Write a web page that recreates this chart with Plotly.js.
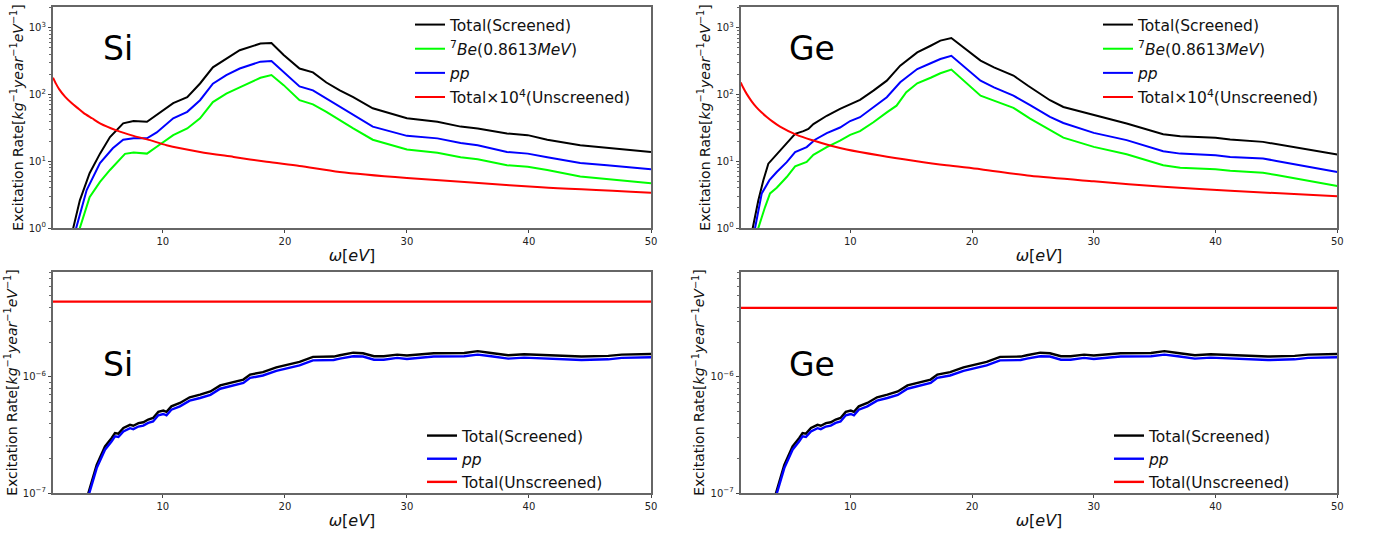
<!DOCTYPE html>
<html>
<head>
<meta charset="utf-8">
<script src="https://cdn.plot.ly/plotly-3.0.1.min.js"></script>
<style>html,body{margin:0;padding:0;background:#fff;}#chart{width:1375px;height:537px;}</style>
</head>
<body>
<div id="chart"></div>
<script>
// ---------- Top-left: Si ----------
const siTotalOmega = [2.5, 2.66, 3.2, 4.0, 4.85, 5.67, 6.75, 7.6, 8.7, 9.5, 10.85, 12.0, 13.05, 14.1, 15.2, 16.3, 18.0, 18.9, 19.9, 21.2, 22.3, 23.4, 24.5, 25.6, 27.2, 30.0, 32.5, 34.4, 35.8, 38.2, 39.9, 41.5, 44.2, 46.4, 50];
const siTotal = [0.6, 1.0, 2.6, 6.6, 13, 23, 37, 40, 39, 49, 74, 91, 146, 255, 345, 460, 580, 590, 390, 245, 214, 151, 115, 91, 62, 44, 39, 33, 31, 26, 24.6, 21, 17.4, 15.9, 13.7];

const siPPOmega = [2.75, 2.9, 3.76, 4.3, 4.85, 5.9, 6.75, 7.6, 8.7, 9.5, 10.85, 12.0, 13.05, 14.1, 15.2, 16.3, 18.0, 18.9, 19.9, 21.2, 22.3, 23.4, 24.5, 25.6, 27.2, 30.0, 32.5, 34.4, 35.8, 38.2, 39.9, 41.5, 44.2, 46.4, 50];
const siPP = [0.6, 1.0, 3.7, 5.8, 9.4, 15.6, 21, 22, 22, 27, 44, 55, 82, 145, 195, 245, 310, 318, 214, 132, 115, 87, 65, 49, 33, 24, 22, 18.7, 17.4, 13.8, 13, 11.5, 9.4, 8.7, 7.6];

const siBeOmega = [3.05, 3.2, 4.0, 4.85, 5.67, 6.2, 6.9, 7.6, 8.7, 9.5, 10.85, 12.0, 13.05, 14.1, 15.2, 16.3, 18.0, 18.9, 19.9, 21.2, 22.3, 23.4, 24.5, 25.6, 27.2, 30.0, 32.5, 34.4, 35.8, 38.2, 39.9, 41.5, 44.2, 46.4, 50];
const siBe = [0.6, 1.0, 2.9, 4.9, 7.4, 9.3, 12.9, 13.5, 13, 16.5, 24.6, 31, 44, 77, 103, 128, 178, 195, 138, 82, 71, 55, 41, 31, 21, 15, 13.4, 11.5, 10.7, 8.7, 8.3, 7.4, 5.9, 5.4, 4.7];

const siUnscrOmega = [1.0, 1.2, 1.5, 2.0, 2.5, 3.0, 3.5, 4.2, 4.85, 6.2, 7.6, 8.95, 10.3, 13.05, 15.8, 18.5, 21.2, 24.5, 30, 35.3, 41, 50];
const siUnscr = [178, 150, 120, 92, 75, 63, 53, 44, 37, 29, 24, 20.7, 17.4, 13.8, 11.6, 9.8, 8.5, 6.9, 5.6, 4.8, 4.06, 3.37];

// ---------- Top-right: Ge ----------
const geTotalOmega = [1.85, 1.99, 2.45, 2.86, 3.27, 3.96, 4.78, 5.47, 6.15, 6.56, 6.97, 8.07, 9.16, 9.99, 10.8, 11.9, 13.0, 14.1, 15.5, 16.6, 17.4, 18.3, 19.6, 20.7, 21.8, 23.4, 24.6, 25.6, 26.4, 27.5, 30, 32.7, 35.7, 37.1, 40, 41.2, 43.9, 45, 50];
const geTotal = [0.6, 1.0, 2.6, 5.2, 9.2, 12.6, 18.2, 25.7, 28.2, 30.5, 36, 48, 61, 72, 83, 114, 161, 270, 427, 537, 640, 700, 455, 322, 255, 192, 135, 104, 82, 65, 49, 36.7, 25.4, 23.7, 22.4, 21.1, 19.5, 18, 12.6];

const gePPOmega = [2.05, 2.18, 2.73, 3.36, 3.96, 4.78, 5.47, 6.42, 7.1, 8.07, 9.16, 9.99, 10.8, 11.9, 13.0, 14.1, 15.5, 16.6, 17.4, 18.3, 19.6, 20.7, 21.8, 23.4, 24.77, 26.4, 27.5, 30, 32.7, 35.7, 37.1, 40, 41.2, 43.9, 45, 50];
const gePP = [0.6, 1.0, 3.3, 5.2, 6.9, 9.7, 13.7, 16.3, 21, 26.3, 32, 40, 45.6, 64, 91, 152, 240, 293, 340, 380, 240, 161, 128, 96, 69, 46, 37.4, 26.6, 20.7, 14.1, 13, 12.3, 11.6, 11, 10.1, 6.9];

const geBeOmega = [2.3, 2.45, 3.0, 3.41, 3.96, 4.78, 5.47, 6.42, 6.97, 8.07, 9.16, 9.99, 10.8, 11.9, 13.0, 13.8, 14.6, 15.5, 16.6, 17.4, 18.3, 19.6, 20.7, 21.8, 23.4, 24.77, 26.4, 27.5, 30, 32.7, 35.7, 37.1, 40, 41.2, 43.9, 45, 50];
const geBe = [0.6, 1.0, 2.06, 3.3, 4.0, 5.8, 8.4, 9.8, 12.5, 16.3, 20.4, 24.8, 28.2, 38.4, 54, 68, 108, 147, 178, 208, 236, 144, 96, 81, 63, 43.6, 29, 22.6, 16.4, 12.7, 8.7, 8.0, 7.6, 7.2, 6.7, 6.2, 4.25];

const geUnscrOmega = [1.0, 1.2, 1.49, 1.9, 2.3, 2.7, 3.14, 3.6, 4.23, 5.6, 6.97, 8.34, 9.7, 12.45, 15.2, 17.9, 20.7, 24.77, 30, 35.7, 41.2, 50];
const geUnscr = [152, 127, 102, 79, 64, 54, 46, 39.5, 33, 24.8, 20.4, 17.2, 15, 12.2, 10.2, 8.7, 7.6, 6.05, 5.0, 4.15, 3.6, 3.0];

// ---------- Bottom panels (Si and Ge share the same curves) ----------
const lowOmega = [3.7, 3.9, 4.58, 5.26, 5.81, 6.08, 6.36, 6.77, 7.31, 7.58, 8.0, 8.4, 8.8, 9.2, 9.63, 10.04, 10.3, 10.7, 11.4, 12.2, 13.05, 13.9, 14.7, 15.8, 16.6, 17.15, 18.2, 19.3, 20.4, 21.2, 22.3, 24.0, 24.5, 25.6, 26.4, 27.3, 28.1, 29.2, 30.0, 32.2, 34.7, 35.8, 36.9, 38.3, 39.6, 42.4, 44.3, 46.5, 47.6, 50];
const lowTotal = [0.8e-7, 1.0e-7, 1.75e-7, 2.52e-7, 2.98e-7, 3.29e-7, 3.25e-7, 3.63e-7, 3.87e-7, 3.8e-7, 4.0e-7, 4.07e-7, 4.3e-7, 4.43e-7, 5.0e-7, 5.13e-7, 5.0e-7, 5.58e-7, 5.97e-7, 6.68e-7, 7.05e-7, 7.5e-7, 8.47e-7, 9.05e-7, 9.5e-7, 1.05e-6, 1.10e-6, 1.21e-6, 1.28e-6, 1.35e-6, 1.49e-6, 1.50e-6, 1.54e-6, 1.62e-6, 1.60e-6, 1.51e-6, 1.51e-6, 1.56e-6, 1.53e-6, 1.60e-6, 1.61e-6, 1.67e-6, 1.61e-6, 1.54e-6, 1.57e-6, 1.54e-6, 1.50e-6, 1.52e-6, 1.56e-6, 1.58e-6];
const lowPP = [0.75e-7, 0.94e-7, 1.64e-7, 2.36e-7, 2.79e-7, 3.08e-7, 3.04e-7, 3.39e-7, 3.62e-7, 3.55e-7, 3.74e-7, 3.81e-7, 4.02e-7, 4.14e-7, 4.68e-7, 4.8e-7, 4.68e-7, 5.22e-7, 5.58e-7, 6.25e-7, 6.59e-7, 7.01e-7, 7.92e-7, 8.46e-7, 8.88e-7, 9.82e-7, 1.03e-6, 1.13e-6, 1.20e-6, 1.26e-6, 1.39e-6, 1.40e-6, 1.44e-6, 1.51e-6, 1.50e-6, 1.41e-6, 1.41e-6, 1.46e-6, 1.43e-6, 1.50e-6, 1.51e-6, 1.56e-6, 1.51e-6, 1.44e-6, 1.47e-6, 1.44e-6, 1.40e-6, 1.42e-6, 1.46e-6, 1.48e-6];
const flatOmega = [1, 50];
const siUnscrLow = [4.46e-6, 4.46e-6];
const geUnscrLow = [3.94e-6, 3.94e-6];

// ---------- Labels ----------
const labTotal = 'Total(Screened)';
const labBe = '<sup>7</sup><i>Be</i>(0.8613<i>MeV</i>)';
const labPP = '<i>pp</i>';
const labUnscr4 = 'Total×10<sup>4</sup>(Unscreened)';
const labUnscr = 'Total(Unscreened)';
const topTickVals = [1, 10, 100, 1000];
const topTickText = ['10<sup>0</sup>', '10<sup>1</sup>', '10<sup>2</sup>', '10<sup>3</sup>'];
const lowTickVals = [1e-7, 1e-6];
const lowTickText = ['10<sup>−7</sup>', '10<sup>−6</sup>'];
const xTickVals = [10, 20, 30, 40, 50];

const FONT = 'DejaVu Sans';
const W = 1375, H = 537;
const px = v => v / W;
const py = v => 1 - v / H;

function minorVals(lo, hi) {
  const out = [];
  for (let e = lo; e <= hi; e++) {
    for (let m = 2; m <= 9; m++) out.push(m * Math.pow(10, e));
  }
  return out;
}

function line(x, y, name, color, xa, ya, leg, group, w, smooth) {
  return {x: x, y: y, name: name, type: 'scatter', mode: 'lines',
    line: {color: color, width: w || 2, shape: smooth ? 'spline' : 'linear', smoothing: 0.8},
    xaxis: xa, yaxis: ya,
    legend: leg, legendgroup: group, showlegend: true, hoverinfo: 'skip'};
}

const traces = [
  line(siTotalOmega, siTotal, labTotal, '#000000', 'x', 'y', 'legend', 'a1'),
  line(siBeOmega, siBe, labBe, '#00ff00', 'x', 'y', 'legend', 'a2'),
  line(siPPOmega, siPP, labPP, '#0000ff', 'x', 'y', 'legend', 'a3'),
  line(siUnscrOmega, siUnscr, labUnscr4, '#ff0000', 'x', 'y', 'legend', 'a4', 2, true),

  line(geTotalOmega, geTotal, labTotal, '#000000', 'x2', 'y2', 'legend2', 'b1'),
  line(geBeOmega, geBe, labBe, '#00ff00', 'x2', 'y2', 'legend2', 'b2'),
  line(gePPOmega, gePP, labPP, '#0000ff', 'x2', 'y2', 'legend2', 'b3'),
  line(geUnscrOmega, geUnscr, labUnscr4, '#ff0000', 'x2', 'y2', 'legend2', 'b4', 2, true),

  line(lowOmega, lowTotal, labTotal, '#000000', 'x3', 'y3', 'legend3', 'c1', 2.4),
  line(lowOmega, lowPP, labPP, '#0000ff', 'x3', 'y3', 'legend3', 'c2', 2.4),
  line(flatOmega, siUnscrLow, labUnscr, '#ff0000', 'x3', 'y3', 'legend3', 'c3', 2.4),

  line(lowOmega, lowTotal, labTotal, '#000000', 'x4', 'y4', 'legend4', 'd1', 2.4),
  line(lowOmega, lowPP, labPP, '#0000ff', 'x4', 'y4', 'legend4', 'd2', 2.4),
  line(flatOmega, geUnscrLow, labUnscr, '#ff0000', 'x4', 'y4', 'legend4', 'd3', 2.4)
];

const xL = [px(53), px(651)];
const xR = [px(740.7), px(1337.3)];
const yT = [py(228), py(7)];
const yB = [py(493), py(272)];

const yTitleText = 'Excitation Rate[<i>kg</i><sup>−1</sup><i>year</i><sup>−1</sup><i>eV</i><sup>−1</sup>]';
const xTitleText = '<i>ω</i>[<i>eV</i>]';

function xaxis(domain, anchor) {
  return {domain: domain, anchor: anchor, range: [1, 50], tickmode: 'array', tickvals: xTickVals,
    ticks: 'outside', ticklen: 3.5, tickwidth: 1, tickcolor: '#444',
    showline: true, mirror: true, linecolor: '#666', linewidth: 1.6,
    showgrid: false, zeroline: false,
    tickfont: {family: FONT, size: 10, color: '#222'},
    title: {text: xTitleText, font: {family: FONT, size: 16, color: '#111'}, standoff: 4}};
}
function yaxis(domain, anchor, range, tv, tt, minor) {
  return {domain: domain, anchor: anchor, type: 'log', range: range,
    tickmode: 'array', tickvals: tv, ticktext: tt,
    ticks: 'outside', ticklen: 3.5, tickwidth: 1, tickcolor: '#444',
    minor: {tickmode: 'array', tickvals: minor, ticks: 'outside', ticklen: 2, tickwidth: 0.8, tickcolor: '#444', showgrid: false},
    showline: true, mirror: true, linecolor: '#666', linewidth: 1.6,
    showgrid: false, zeroline: false,
    tickfont: {family: FONT, size: 10, color: '#222'},
    title: {text: yTitleText, font: {family: FONT, size: 14, color: '#111'}, standoff: 2}};
}

function legend(x, y, gap) {
  return {x: x, y: y, xanchor: 'left', yanchor: 'top', bgcolor: 'rgba(255,255,255,0)',
    borderwidth: 0, font: {family: FONT, size: 15.5, color: '#111'}, tracegroupgap: gap,
    traceorder: 'grouped'};
}

function label(text, x, y) {
  return {text: text, x: px(x), y: py(y), xref: 'paper', yref: 'paper', showarrow: false,
    xanchor: 'center', yanchor: 'middle', font: {family: FONT, size: 33, color: '#000'}};
}

const layout = {
  width: W, height: H, margin: {l: 0, r: 0, t: 0, b: 0},
  paper_bgcolor: '#fff', plot_bgcolor: '#fff',
  font: {family: FONT},
  showlegend: true,
  xaxis: xaxis(xL, 'y'),
  yaxis: yaxis(yT, 'x', [0, 3.31], topTickVals, topTickText, minorVals(0, 3).filter(v => v < 2050)),
  xaxis2: xaxis(xR, 'y2'),
  yaxis2: yaxis(yT, 'x2', [0, 3.31], topTickVals, topTickText, minorVals(0, 3).filter(v => v < 2050)),
  xaxis3: xaxis(xL, 'y3'),
  yaxis3: yaxis(yB, 'x3', [-7, -5.095], lowTickVals, lowTickText, minorVals(-7, -6).filter(v => v < 8.1e-6)),
  xaxis4: xaxis(xR, 'y4'),
  yaxis4: yaxis(yB, 'x4', [-7, -5.095], lowTickVals, lowTickText, minorVals(-7, -6).filter(v => v < 8.1e-6)),
  legend: legend(px(410), py(8), 1),
  legend2: legend(px(1098), py(8), 1),
  legend3: legend(px(422), py(419), 0),
  legend4: legend(px(1109), py(419), 0),
  annotations: [
    label('Si', 118, 48),
    label('Ge', 812, 48),
    label('Si', 118, 364),
    label('Ge', 812, 364)
  ]
};

Plotly.newPlot('chart', traces, layout, {staticPlot: true, displayModeBar: false});
</script>
</body>
</html>
